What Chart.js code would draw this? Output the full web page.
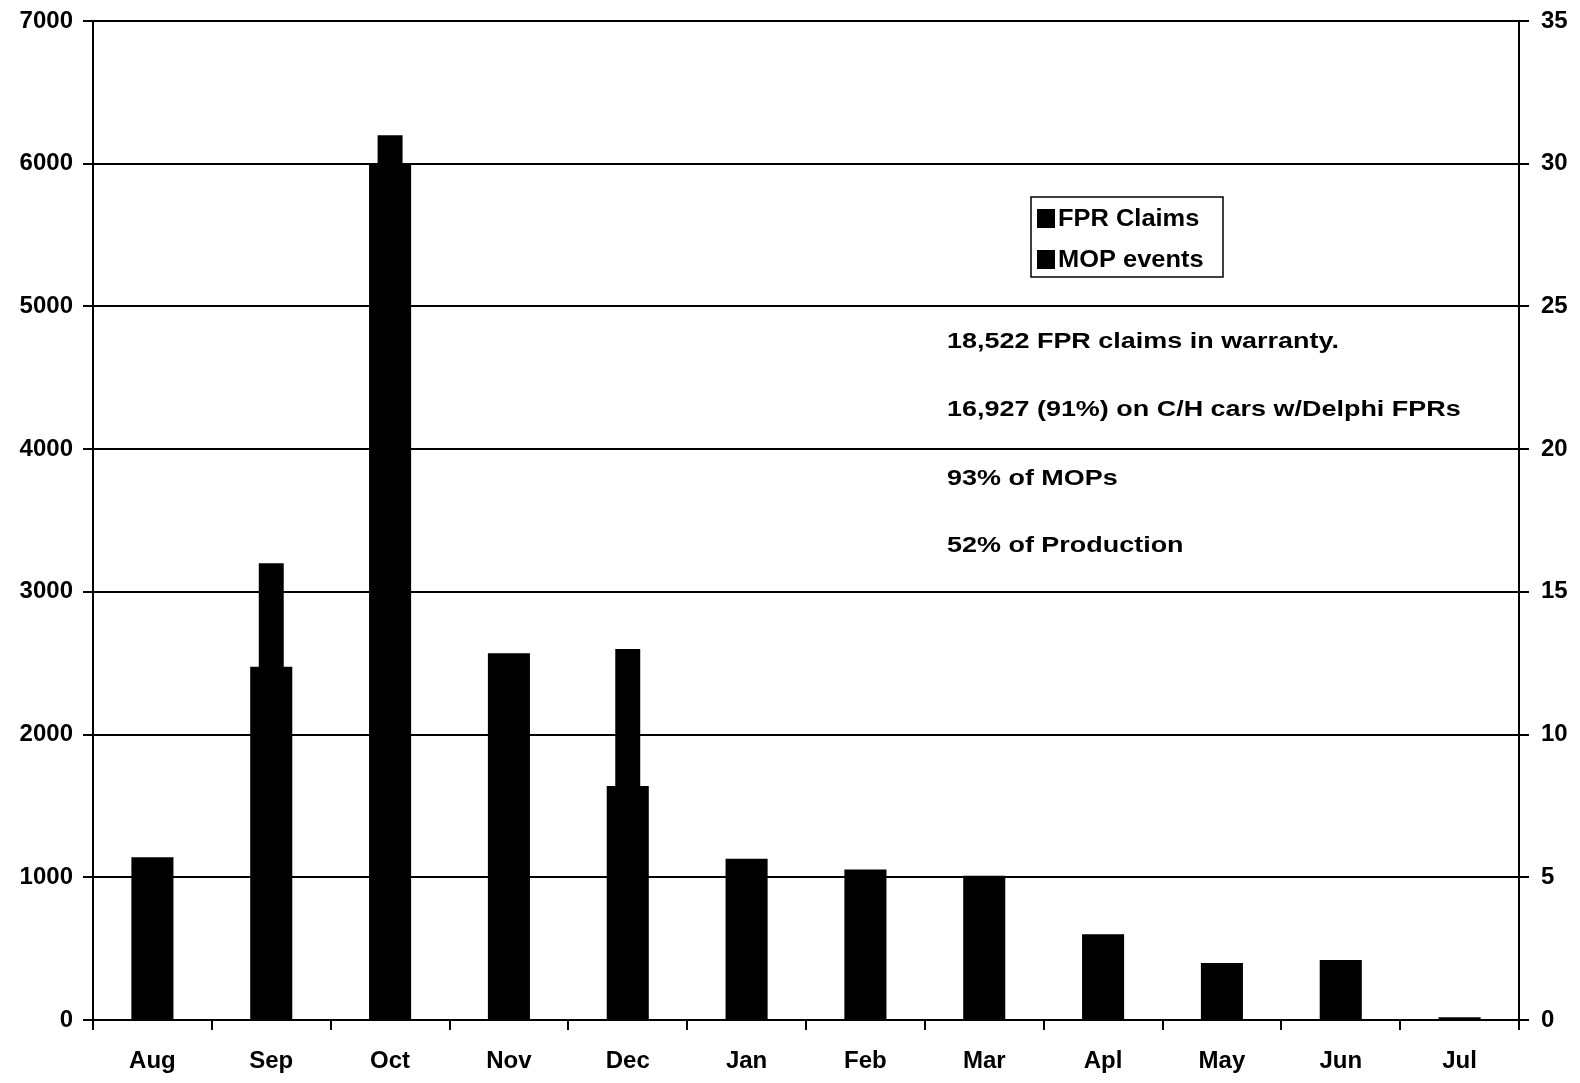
<!DOCTYPE html>
<html>
<head>
<meta charset="utf-8">
<script src="https://cdn.jsdelivr.net/npm/chart.js@4.4.1/dist/chart.umd.min.js"></script>
<style>
  html, body { margin: 0; padding: 0; background: #fff; }
  #wrap { width: 1580px; height: 1083px; }
</style>
</head>
<body>
<div id="wrap"><canvas id="c" width="1580" height="1083"></canvas></div>
<script>
// Monthly FPR warranty claims (left axis) and MOP events (right axis)
const months = ['Aug', 'Sep', 'Oct', 'Nov', 'Dec', 'Jan', 'Feb', 'Mar', 'Apl', 'May', 'Jun', 'Jul'];
const fprClaims = [1140, 2475, 6000, 2570, 1640, 1130, 1055, 1010, 600, 400, 420, 20];
const mopEvents = [4, 16, 31, 11, 13, 3, 2, 2, 1, 1, 1, 0];
const leftTicks = [0, 1000, 2000, 3000, 4000, 5000, 6000, 7000];
const rightTicks = [0, 5, 10, 15, 20, 25, 30, 35];
const notes = [
  '18,522 FPR claims in warranty.',
  '16,927 (91%) on C/H cars w/Delphi FPRs',
  '93% of MOPs',
  '52% of Production'
];

const FONT = '"Liberation Sans", Arial, sans-serif';

// Boxed legend inside the plot, upper right
const boxLegend = {
  id: 'boxLegend',
  afterDraw(chart) {
    const ctx = chart.ctx;
    ctx.save();
    ctx.strokeStyle = '#000';
    ctx.lineWidth = 1.5;
    ctx.fillStyle = '#fff';
    ctx.fillRect(1031, 197, 192, 80);
    ctx.strokeRect(1031, 197, 192, 80);
    ctx.font = 'bold 24px ' + FONT;
    ctx.textBaseline = 'middle';
    const rows = [218, 259];
    chart.data.datasets.forEach((ds, i) => {
      ctx.fillStyle = '#000';
      ctx.fillRect(1037, rows[i] - 9, 18, 19);
      ctx.save();
      ctx.translate(1058, rows[i] + 1);
      ctx.scale(1.06, 1);
      ctx.fillText(ds.label, 0, 0);
      ctx.restore();
    });
    ctx.restore();
  }
};

// Summary notes to the right of the tallest bar
const noteText = {
  id: 'noteText',
  afterDraw(chart) {
    const ctx = chart.ctx;
    const baselines = [348, 416, 485, 552];
    ctx.save();
    ctx.fillStyle = '#000';
    ctx.font = 'bold 22px ' + FONT;
    ctx.textBaseline = 'alphabetic';
    notes.forEach((t, i) => {
      ctx.save();
      ctx.translate(947, baselines[i]);
      ctx.scale(1.225, 1);
      ctx.fillText(t, 0, 0);
      ctx.restore();
    });
    ctx.restore();
  }
};

const tickFont = { family: FONT, size: 24, weight: 'bold' };

// Fixed axis sizes so the plot box sits where the layout wants it
function fixVertical(width) {
  return s => { s.width = width; s.paddingTop = 0; s.paddingBottom = 0; };
}

new Chart(document.getElementById('c'), {
  type: 'bar',
  data: {
    labels: months,
    datasets: [
      {
        label: 'FPR Claims',
        data: fprClaims,
        yAxisID: 'y',
        backgroundColor: '#000',
        grouped: false,
        categoryPercentage: 1,
        barPercentage: 0.354,
        order: 2
      },
      {
        label: 'MOP events',
        data: mopEvents,
        yAxisID: 'y1',
        backgroundColor: '#000',
        grouped: false,
        categoryPercentage: 1,
        barPercentage: 0.21,
        order: 1
      }
    ]
  },
  options: {
    responsive: false,
    animation: false,
    devicePixelRatio: 1,
    layout: { padding: { top: 21, left: 0, right: 0, bottom: 0 } },
    plugins: {
      legend: { display: false },
      tooltip: { enabled: false }
    },
    scales: {
      x: {
        offset: true,
        grid: {
          offset: true,
          drawOnChartArea: false,
          color: '#000',
          lineWidth: 2,
          tickLength: 10
        },
        border: { color: '#000', width: 2 },
        ticks: { color: '#000', font: tickFont, padding: 17, maxRotation: 0 },
        afterFit(s) { s.height = 63; s.paddingLeft = 0; s.paddingRight = 0; }
      },
      y: {
        position: 'left',
        min: 0,
        max: 7000,
        afterBuildTicks(s) { s.ticks = leftTicks.map(v => ({ value: v })); },
        grid: { color: '#000', lineWidth: 2, tickLength: 10 },
        border: { color: '#000', width: 2 },
        ticks: { color: '#000', font: tickFont, padding: 10, callback: v => String(v) },
        afterFit: fixVertical(93)
      },
      y1: {
        position: 'right',
        min: 0,
        max: 35,
        afterBuildTicks(s) { s.ticks = rightTicks.map(v => ({ value: v })); },
        grid: { drawOnChartArea: false, color: '#000', lineWidth: 2, tickLength: 10 },
        border: { color: '#000', width: 2 },
        ticks: { color: '#000', font: tickFont, padding: 12, callback: v => String(v) },
        afterFit: fixVertical(61)
      }
    }
  },
  plugins: [boxLegend, noteText]
});
</script>
</body>
</html>
